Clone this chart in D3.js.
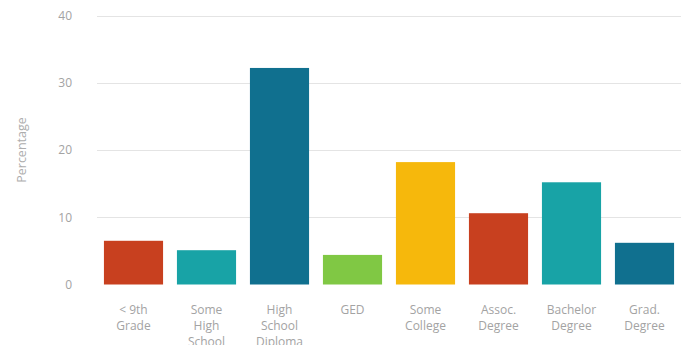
<!DOCTYPE html>
<html>
<head>
<meta charset="utf-8">
<script src="https://cdn.jsdelivr.net/npm/d3@7"></script>
<style>
  html, body { margin: 0; padding: 0; background: #fff; }
  svg { display: block; }
  text { font-family: "Open Sans", "Noto Sans", sans-serif; }
</style>
</head>
<body>
<svg id="chart" width="684" height="345"></svg>
<script>
// Educational attainment, share of population (%)
const categories = [
  ["< 9th", "Grade"],
  ["Some", "High", "School"],
  ["High", "School", "Diploma"],
  ["GED"],
  ["Some", "College"],
  ["Assoc.", "Degree"],
  ["Bachelor", "Degree"],
  ["Grad.", "Degree"]
];
const values = [6.5, 5.1, 32.2, 4.4, 18.2, 10.6, 15.2, 6.2];
const barColors = ["#c8401f", "#18a3a6", "#10708f", "#80c844", "#f6b80c", "#c8401f", "#18a3a6", "#10708f"];
const yTicks = [0, 10, 20, 30, 40];

const svg = d3.select("#chart");
const margin = { left: 97, right: 3, top: 15.5, bottom: 60.5 };
const W = 684, H = 345;

const keys = categories.map((c, i) => i);
const x = d3.scaleBand()
  .domain(keys)
  .range([margin.left, W - margin.right])
  .paddingInner(0.19)
  .paddingOuter(0.095);

const y = d3.scaleLinear()
  .domain([0, 40])
  .range([H - margin.bottom, margin.top]);

// horizontal grid
svg.append("g")
  .selectAll("line")
  .data(yTicks.filter(t => t > 0))
  .join("line")
  .attr("x1", margin.left)
  .attr("x2", W - margin.right)
  .attr("y1", d => Math.round(y(d)) + 0.5)
  .attr("y2", d => Math.round(y(d)) + 0.5)
  .attr("stroke", "#e4e4e4")
  .attr("stroke-width", 1);

// y axis labels
const yAxis = d3.axisLeft(y).tickValues(yTicks).tickSize(0).tickPadding(0);
const gy = svg.append("g").attr("transform", "translate(72,0)").call(yAxis);
gy.select(".domain").remove();
gy.selectAll("text")
  .attr("fill", "#a3a3a3")
  .attr("font-size", 12);

// y axis title
svg.append("text")
  .attr("transform", "translate(26,150) rotate(-90)")
  .attr("text-anchor", "middle")
  .attr("fill", "#adadad")
  .attr("font-size", 12.5)
  .text("Percentage");

// bars
svg.append("g")
  .selectAll("rect")
  .data(values)
  .join("rect")
  .attr("x", (d, i) => x(i))
  .attr("width", x.bandwidth())
  .attr("y", d => y(d))
  .attr("height", d => y(0) - y(d))
  .attr("fill", (d, i) => barColors[i]);

// category labels, wrapped onto lines
const xl = svg.append("g")
  .selectAll("text")
  .data(categories)
  .join("text")
  .attr("text-anchor", "middle")
  .attr("fill", "#a3a3a3")
  .attr("font-size", 12)
  .attr("x", (d, i) => x(i) + x.bandwidth() / 2)
  .attr("y", 314);
xl.selectAll("tspan")
  .data(d => d)
  .join("tspan")
  .attr("x", function () { return d3.select(this.parentNode).attr("x"); })
  .attr("dy", (d, j) => j === 0 ? 0 : 16)
  .text(d => d);
</script>
</body>
</html>
